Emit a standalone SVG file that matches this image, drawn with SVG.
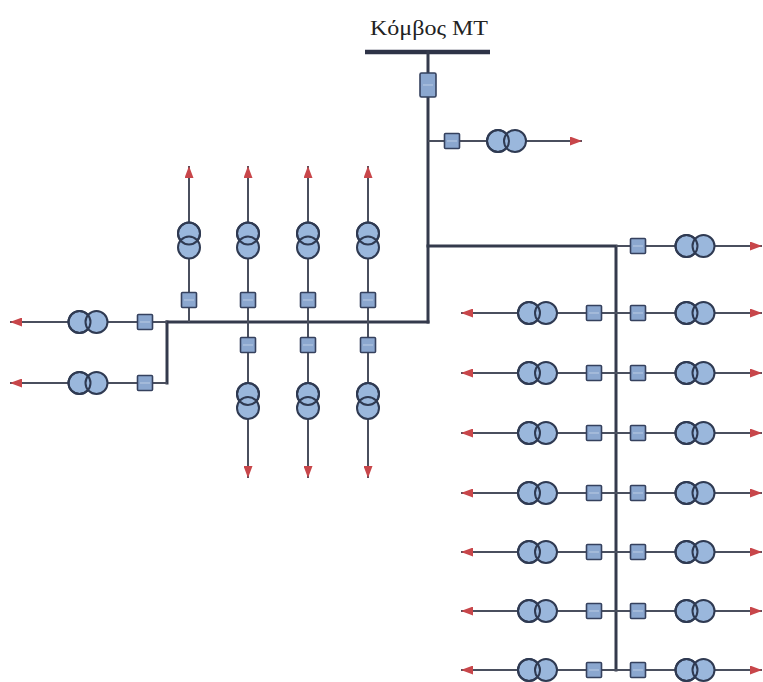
<svg xmlns="http://www.w3.org/2000/svg" xmlns:xlink="http://www.w3.org/1999/xlink" width="763" height="682" viewBox="0 0 763 682">
<style>
.bus{stroke:#343a4c;stroke-width:3;fill:none;stroke-linecap:square}
.ln{stroke:#4a4f5e;stroke-width:2;fill:none}
.tc{fill:#9ab7dc;stroke:#2f3a52;stroke-width:2}
.to{fill:none;stroke:#2f3a52;stroke-width:2}
.bk{fill:#8ba7cf;stroke:#35415e;stroke-width:1.6}
.bi{stroke:#c8d6ea;stroke-width:0.8}
.lbl{font-family:"Liberation Serif","Times New Roman",serif;font-size:22px;fill:#222}
</style>
<defs>
<marker id="arr" viewBox="0 0 12 9" refX="12" refY="4.5" markerWidth="12" markerHeight="9" markerUnits="userSpaceOnUse" orient="auto">
<path d="M0,0 L12,4.5 L0,9 z" fill="#c8464a"/>
</marker>
<g id="txh">
<circle class="tc" cx="-8.5" cy="0" r="11"/>
<circle class="tc" cx="8.5" cy="0" r="11"/>
<circle class="to" cx="-8.5" cy="0" r="11"/>
</g>
<g id="txv">
<circle class="tc" cx="0" cy="-7" r="11"/>
<circle class="tc" cx="0" cy="7" r="11"/>
<circle class="to" cx="0" cy="-7" r="11"/>
</g>
<g id="brk">
<rect class="bk" x="-7.5" y="-7.5" width="15" height="15" rx="1"/>
<line class="bi" x1="-5" y1="0" x2="5" y2="0"/>
</g>
</defs>
<rect width="763" height="682" fill="#ffffff"/>
<g id="label"><text class="lbl" x="370" y="35" textLength="118" lengthAdjust="spacingAndGlyphs">Κόμβος ΜΤ</text></g>
<g id="connectors">
<line x1="365" y1="52" x2="490" y2="52" stroke="#2e3347" stroke-width="4.5"/>
<path class="bus" d="M428,52 V322"/>
<path class="bus" d="M428,246 H616 V670"/>
<path class="bus" d="M167,322 H428"/>
<path class="bus" d="M167,322 V383"/>
<line class="ln" x1="428" y1="141" x2="582" y2="141" marker-end="url(#arr)"/>
<line class="ln" x1="167" y1="322" x2="10" y2="322" marker-end="url(#arr)"/>
<line class="ln" x1="167" y1="383" x2="10" y2="383" marker-end="url(#arr)"/>
<line class="ln" x1="189" y1="322" x2="189" y2="166" marker-end="url(#arr)"/>
<line class="ln" x1="248" y1="322" x2="248" y2="166" marker-end="url(#arr)"/>
<line class="ln" x1="308" y1="322" x2="308" y2="166" marker-end="url(#arr)"/>
<line class="ln" x1="368" y1="322" x2="368" y2="166" marker-end="url(#arr)"/>
<line class="ln" x1="248" y1="322" x2="248" y2="478" marker-end="url(#arr)"/>
<line class="ln" x1="308" y1="322" x2="308" y2="478" marker-end="url(#arr)"/>
<line class="ln" x1="368" y1="322" x2="368" y2="478" marker-end="url(#arr)"/>
<line class="ln" x1="616" y1="246" x2="762" y2="246" marker-end="url(#arr)"/>
<line class="ln" x1="616" y1="313" x2="461" y2="313" marker-end="url(#arr)"/>
<line class="ln" x1="616" y1="313" x2="762" y2="313" marker-end="url(#arr)"/>
<line class="ln" x1="616" y1="373" x2="461" y2="373" marker-end="url(#arr)"/>
<line class="ln" x1="616" y1="373" x2="762" y2="373" marker-end="url(#arr)"/>
<line class="ln" x1="616" y1="433" x2="461" y2="433" marker-end="url(#arr)"/>
<line class="ln" x1="616" y1="433" x2="762" y2="433" marker-end="url(#arr)"/>
<line class="ln" x1="616" y1="493" x2="461" y2="493" marker-end="url(#arr)"/>
<line class="ln" x1="616" y1="493" x2="762" y2="493" marker-end="url(#arr)"/>
<line class="ln" x1="616" y1="552" x2="461" y2="552" marker-end="url(#arr)"/>
<line class="ln" x1="616" y1="552" x2="762" y2="552" marker-end="url(#arr)"/>
<line class="ln" x1="616" y1="611" x2="461" y2="611" marker-end="url(#arr)"/>
<line class="ln" x1="616" y1="611" x2="762" y2="611" marker-end="url(#arr)"/>
<line class="ln" x1="616" y1="670" x2="461" y2="670" marker-end="url(#arr)"/>
<line class="ln" x1="616" y1="670" x2="762" y2="670" marker-end="url(#arr)"/>
</g>
<g id="cb-main"><rect class="bk" x="420" y="73" width="16" height="24" rx="1.5"/><line class="bi" x1="423" y1="85" x2="433" y2="85"/></g>
<g id="top-branch"><use href="#brk" x="452" y="141"/><use href="#txh" x="506.5" y="141"/></g>
<g id="up-1"><use href="#brk" x="189" y="300"/><use href="#txv" x="189" y="240.5"/></g>
<g id="up-2"><use href="#brk" x="248" y="300"/><use href="#txv" x="248" y="240.5"/></g>
<g id="up-3"><use href="#brk" x="308" y="300"/><use href="#txv" x="308" y="240.5"/></g>
<g id="up-4"><use href="#brk" x="368" y="300"/><use href="#txv" x="368" y="240.5"/></g>
<g id="down-1"><use href="#brk" x="248" y="345"/><use href="#txv" x="248" y="401"/></g>
<g id="down-2"><use href="#brk" x="308" y="345"/><use href="#txv" x="308" y="401"/></g>
<g id="down-3"><use href="#brk" x="368" y="345"/><use href="#txv" x="368" y="401"/></g>
<g id="left-1"><use href="#brk" x="145" y="322"/><use href="#txh" x="88" y="322"/></g>
<g id="left-2"><use href="#brk" x="145" y="383"/><use href="#txh" x="88" y="383"/></g>
<g id="right-0"><use href="#brk" x="638" y="246"/><use href="#txh" x="695" y="246"/></g>
<g id="row-1"><use href="#brk" x="594" y="313"/><use href="#txh" x="537.5" y="313"/><use href="#brk" x="638" y="313"/><use href="#txh" x="695" y="313"/></g>
<g id="row-2"><use href="#brk" x="594" y="373"/><use href="#txh" x="537.5" y="373"/><use href="#brk" x="638" y="373"/><use href="#txh" x="695" y="373"/></g>
<g id="row-3"><use href="#brk" x="594" y="433"/><use href="#txh" x="537.5" y="433"/><use href="#brk" x="638" y="433"/><use href="#txh" x="695" y="433"/></g>
<g id="row-4"><use href="#brk" x="594" y="493"/><use href="#txh" x="537.5" y="493"/><use href="#brk" x="638" y="493"/><use href="#txh" x="695" y="493"/></g>
<g id="row-5"><use href="#brk" x="594" y="552"/><use href="#txh" x="537.5" y="552"/><use href="#brk" x="638" y="552"/><use href="#txh" x="695" y="552"/></g>
<g id="row-6"><use href="#brk" x="594" y="611"/><use href="#txh" x="537.5" y="611"/><use href="#brk" x="638" y="611"/><use href="#txh" x="695" y="611"/></g>
<g id="row-7"><use href="#brk" x="594" y="670"/><use href="#txh" x="537.5" y="670"/><use href="#brk" x="638" y="670"/><use href="#txh" x="695" y="670"/></g>
</svg>
